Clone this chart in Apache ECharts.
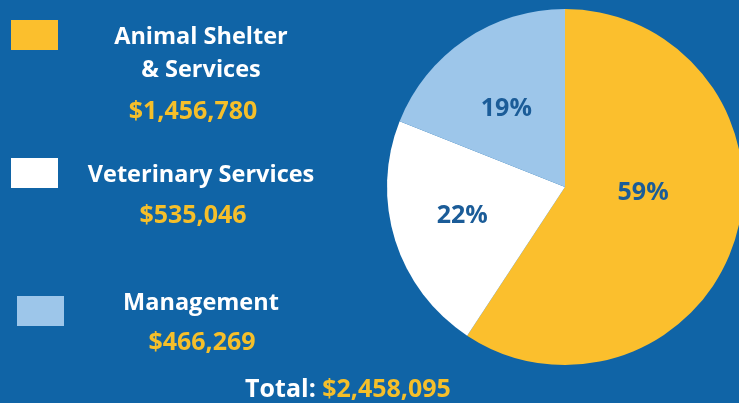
<!DOCTYPE html>
<html><head><meta charset="utf-8">
<script src="https://cdn.jsdelivr.net/npm/echarts@6/dist/echarts.min.js"></script>
<style>html,body{margin:0;padding:0;background:#1064a6;}#c{width:739px;height:403px;}</style>
</head><body><div id="c"></div>
<script>
var categories = ['Animal Shelter\n& Services', 'Veterinary Services', 'Management'];
var values = [1456780, 535046, 466269];
var percentLabels = ['59%', '22%', '19%'];
var totalLabel = 'Total: ';
var totalValue = 2458095;

var colors = ['#fbbf2d', '#ffffff', '#9dc6ea'];
var labelOffsets = [[-10, -21], [-15, 1], [-7, -2]];
var swatches = [[11, 20], [11, 158], [17, 296]];
var nameY = [[37, 70], [175], [303]];
var nameX = [201, 201, 201];
var valY = [112, 216, 343];
var valX = [193, 193, 202];

function money(v) { return '$' + v.toLocaleString('en-US'); }

var FONT = '"Open Sans", sans-serif';
var chart = echarts.init(document.getElementById('c'));
var graphic = [];
categories.forEach(function (c, i) {
  graphic.push({ type: 'rect', shape: { x: swatches[i][0], y: swatches[i][1], width: 47, height: 30 }, style: { fill: colors[i] } });
  c.split('\n').forEach(function (line, j) {
    graphic.push({ type: 'text', x: nameX[i], y: nameY[i][j], style: { text: line, fill: '#ffffff', font: 'bold 23.5px ' + FONT, align: 'center', verticalAlign: 'middle' } });
  });
  graphic.push({ type: 'text', x: valX[i], y: valY[i], style: { text: money(values[i]), fill: '#f5bf2a', font: 'bold 25px ' + FONT, align: 'center', verticalAlign: 'middle' } });
});
graphic.push({ type: 'text', x: 348, y: 390, style: { rich: { a: { fill: '#ffffff', font: 'bold 25px ' + FONT }, b: { fill: '#f5bf2a', font: 'bold 25px ' + FONT } }, text: '{a|' + totalLabel + '}{b|' + money(totalValue) + '}', align: 'center', verticalAlign: 'middle' } });

chart.setOption({
  backgroundColor: '#1064a6',
  animation: false,
  graphic: graphic,
  series: [{
    type: 'pie',
    center: [565, 187],
    radius: [0, 178],
    startAngle: 90,
    clockwise: true,
    silent: true,
    itemStyle: { borderWidth: 0 },
    labelLine: { show: false },
    data: values.map(function (v, i) {
      return {
        value: v, name: categories[i],
        itemStyle: { color: colors[i] },
        label: { show: true, position: 'inside', formatter: percentLabels[i], offset: labelOffsets[i],
          color: '#1b5c98', fontFamily: FONT, fontWeight: 'bold', fontSize: 25 }
      };
    })
  }]
});
</script></body></html>
